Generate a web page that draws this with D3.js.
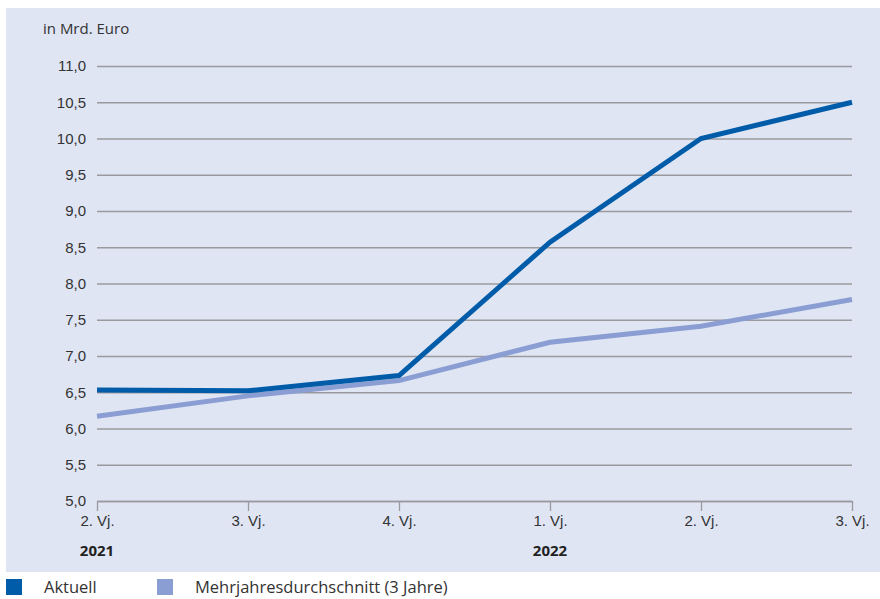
<!DOCTYPE html>
<html><head><meta charset="utf-8">
<script src="https://cdn.jsdelivr.net/npm/d3@7"></script>
<style>body{margin:0;background:#fff;} svg{display:block;font-family:"Open Sans",sans-serif;}</style>
</head><body>
<svg id="c" width="880" height="599"></svg>
<script>
const categories = ["2. Vj.", "3. Vj.", "4. Vj.", "1. Vj.", "2. Vj.", "3. Vj."];
const years = [{label: "2021", index: 0}, {label: "2022", index: 3}];
const aktuell = [6.53, 6.52, 6.73, 8.57, 10.0, 10.5];
const mehrjahres = [6.17, 6.45, 6.66, 7.19, 7.41, 7.78];
const yTicks = [5.0, 5.5, 6.0, 6.5, 7.0, 7.5, 8.0, 8.5, 9.0, 9.5, 10.0, 10.5, 11.0];
const seriesNames = ["Aktuell", "Mehrjahresdurchschnitt (3 Jahre)"];
const colors = ["#005ca9", "#8a9ed3"];

const svg = d3.select("#c");
svg.append("rect").attr("x", 6).attr("y", 8).attr("width", 874).attr("height", 564).attr("fill", "#dfe5f3");

const x = d3.scalePoint().domain(d3.range(categories.length)).range([97, 852]);
const y = d3.scaleLinear().domain([5, 11]).range([501, 66]);
const fmt = d => d3.format(".1f")(d).replace(".", ",");

const yAxis = d3.axisLeft(y).tickValues(yTicks).tickSize(-(852 - 97)).tickFormat(fmt).tickPadding(11);
const gy = svg.append("g").attr("transform", "translate(97,0)").call(yAxis);
gy.select(".domain").remove();
gy.selectAll(".tick line").attr("stroke", "#9a9a9e").attr("stroke-width", 1.3);
gy.selectAll(".tick text").attr("fill", "#333").style("font-size", "15px");

const xAxis = d3.axisBottom(x).tickSize(10).tickSizeOuter(0).tickFormat(i => categories[i]).tickPadding(4);
const gx = svg.append("g").attr("transform", "translate(0,501)").call(xAxis);
gx.select(".domain").attr("stroke", "#9a9a9e").attr("stroke-width", 1.3);
gx.selectAll(".tick line").attr("stroke", "#9a9a9e").attr("stroke-width", 1.3);
gx.selectAll(".tick text").attr("fill", "#333").style("font-size", "15px");

svg.selectAll(".yr").data(years).join("text")
  .attr("x", d => x(d.index)).attr("y", 556).attr("text-anchor", "middle")
  .attr("fill", "#222").style("font-size", "15px").style("font-weight", "bold").text(d => d.label);

svg.append("text").attr("x", 43).attr("y", 34).attr("fill", "#333").style("font-size", "15px").text("in Mrd. Euro");

const line = d3.line().x((d, i) => x(i)).y(d => y(d));
[mehrjahres, aktuell].forEach((s, k) => {
  svg.append("path").datum(s).attr("d", line).attr("fill", "none")
    .attr("stroke", k === 0 ? colors[1] : colors[0]).attr("stroke-width", 5).attr("stroke-linejoin", "miter");
});

const lx = [6, 157];
seriesNames.forEach((n, i) => {
  svg.append("rect").attr("x", lx[i]).attr("y", 579).attr("width", 16).attr("height", 16).attr("fill", colors[i]);
  svg.append("text").attr("x", lx[i] + 38).attr("y", 593).attr("fill", "#333").style("font-size", "16.5px").text(n);
});
</script>
</body></html>
